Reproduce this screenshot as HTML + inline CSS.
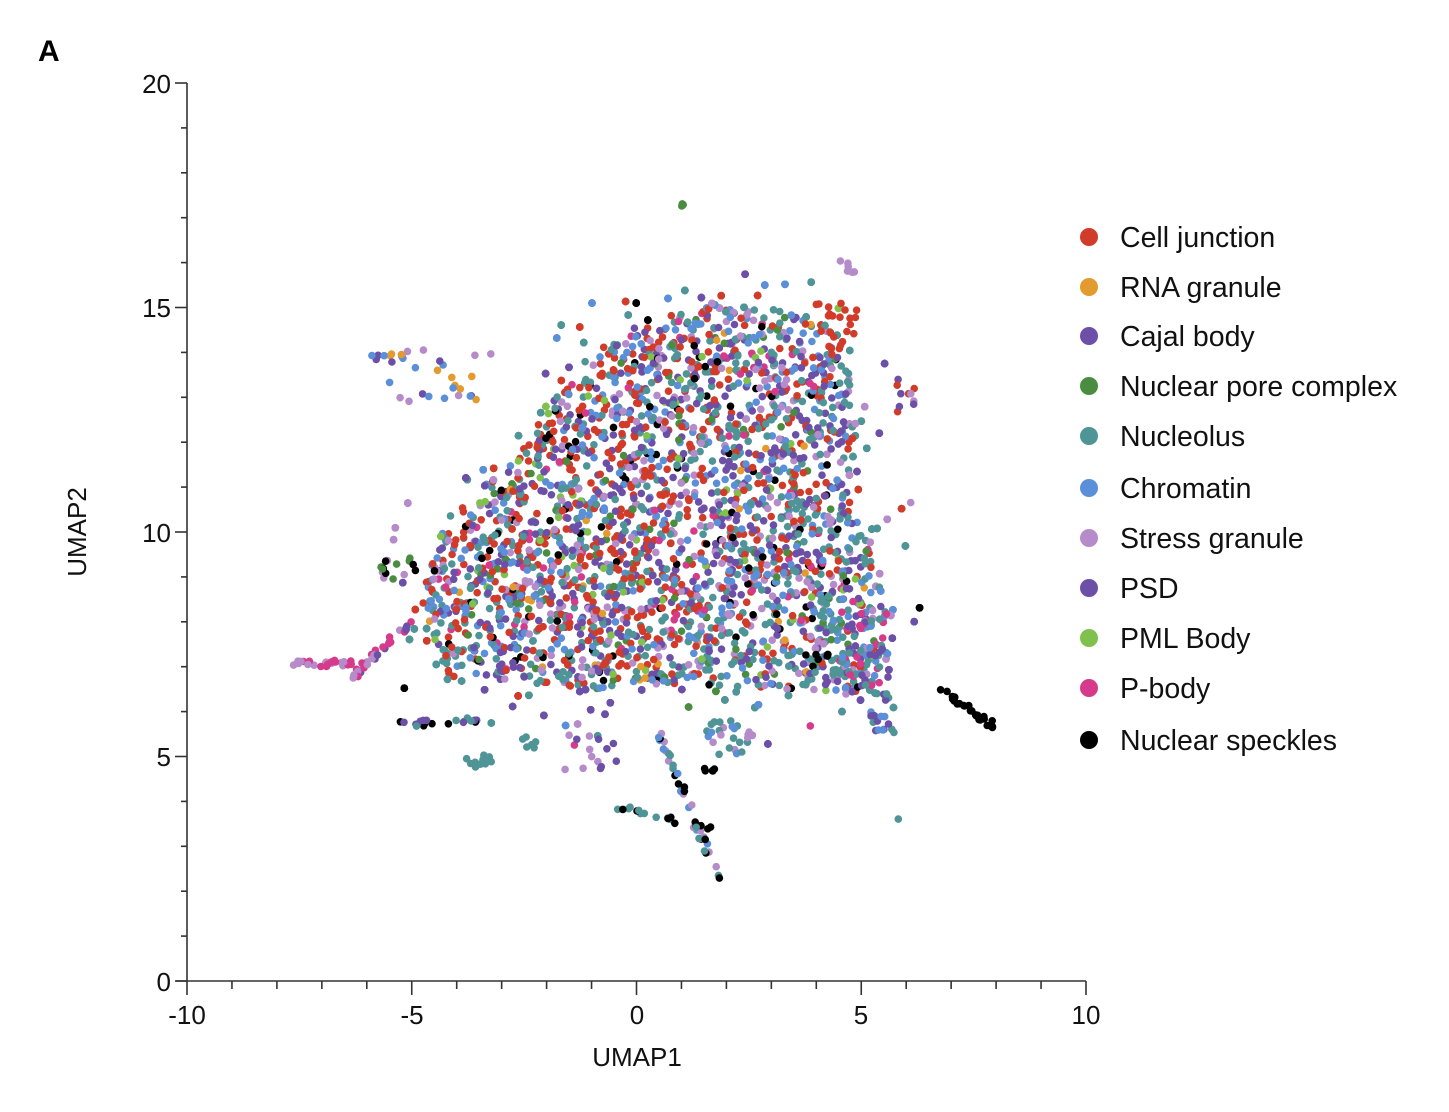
<!DOCTYPE html>
<html><head><meta charset="utf-8">
<style>
html,body{margin:0;padding:0;background:#fff;}
svg{display:block;font-family:"Liberation Sans",sans-serif;}
</style></head>
<body>
<svg id="s" width="1449" height="1112" viewBox="0 0 1449 1112" xmlns="http://www.w3.org/2000/svg">
<text x="38" y="61" font-size="30" font-weight="bold">A</text>
<g id="pts"></g>
<g stroke="#333" stroke-width="1.6" fill="none" id="ax">
<line x1="187" y1="83" x2="187" y2="981"/>
<line x1="176" y1="981" x2="1086" y2="981"/>
</g>
<g font-size="26" fill="#111">
<text x="171" y="991" text-anchor="end">0</text>
<text x="171" y="766" text-anchor="end">5</text>
<text x="171" y="542" text-anchor="end">10</text>
<text x="171" y="317" text-anchor="end">15</text>
<text x="171" y="93" text-anchor="end">20</text>
<text x="187" y="1024" text-anchor="middle">-10</text>
<text x="412" y="1024" text-anchor="middle">-5</text>
<text x="637" y="1024" text-anchor="middle">0</text>
<text x="861" y="1024" text-anchor="middle">5</text>
<text x="1086" y="1024" text-anchor="middle">10</text>
<text x="637" y="1066" text-anchor="middle">UMAP1</text>
<text transform="translate(86,532) rotate(-90)" text-anchor="middle">UMAP2</text>
</g>
<g id="leg" font-size="28.5" fill="#111"></g>
</svg>
<script>
var NS="http://www.w3.org/2000/svg";
var ax=document.getElementById('ax');
function L(x1,y1,x2,y2){var l=document.createElementNS(NS,'line');l.setAttribute('x1',x1);l.setAttribute('y1',y1);l.setAttribute('x2',x2);l.setAttribute('y2',y2);ax.appendChild(l);}
for(var i=0;i<=20;i++){var y=981-i*44.9;L(i%5?181:175,y,187,y);var x=187+i*44.95;L(x,981,x,i%5?989:995);}
var C={red:'#d13b2a',ora:'#e39a2e',pur:'#6c50a8',grn:'#4a8c40',teal:'#4f9496',blue:'#5b8fd8',lp:'#b68bc9',lg:'#80c04c',pink:'#d63a8b',blk:'#000'};
var leg=[['Cell junction',C.red,237],['RNA granule',C.ora,287],['Cajal body',C.pur,336],['Nuclear pore complex',C.grn,386],['Nucleolus',C.teal,436],['Chromatin',C.blue,488],['Stress granule',C.lp,538],['PSD',C.pur,588],['PML Body',C.lg,638],['P-body',C.pink,688],['Nuclear speckles',C.blk,740]];
var lg=document.getElementById('leg');
leg.forEach(function(e){lg.insertAdjacentHTML('beforeend','<circle cx="1089" cy="'+e[2]+'" r="9" fill="'+e[1]+'"/><text x="1120" y="'+(e[2]+10)+'">'+e[0]+'</text>');});
var seed=12345;function R(){seed=(seed*1103515245+12345)%2147483648;return seed/2147483648;}
function G(){return (R()+R()+R()-1.5)/0.5;}
function px(x){return 637+x*44.95;}function py(y){return 981-y*44.9;}
var out=[];
function dot(x,y,c){out.push('<circle cx="'+px(x).toFixed(1)+'" cy="'+py(y).toFixed(1)+'" r="3.8" fill="'+c+'"/>');}
var poly=[[-4.8,8.5],[-4.3,10.3],[-3,11.2],[-1.8,13],[-1,14],[0,14.6],[1,14.9],[3,15],[4,14.6],[4.8,13.5],[4.7,11],[5.2,9.5],[5.3,7],[4.8,6.3],[3,6.5],[1,6.6],[-1,6.5],[-3,6.7],[-4.3,6.8]];
function inside(x,y){var c=false;for(var i=0,j=poly.length-1;i<poly.length;j=i++){var a=poly[i],b=poly[j];if((a[1]>y)!=(b[1]>y)&&x<(b[0]-a[0])*(y-a[1])/(b[1]-a[1])+a[0])c=!c;}return c;}
var w=[['red',20],['pur',21],['teal',17],['blue',15],['lp',12],['blk',4],['grn',4],['pink',3],['ora',1],['lg',3]];
function pick(x,y){var ww=w.map(function(e){var v=e[1];if(e[0]=='red'&&x<1&&y>7)v*=1.6;if(e[0]=='teal'&&(x>3||y<8))v*=1.8;if(e[0]=='red'&&x>4)v*=0.5;return[e[0],v];});var t=0;ww.forEach(function(e){t+=e[1]});var r=R()*t;for(var i=0;i<ww.length;i++){r-=ww[i][1];if(r<=0)return C[ww[i][0]];}return C.pur;}
var n=0;while(n<2700){var x=-5+R()*10.7,y=6+R()*9.6;if(inside(x,y)){dot(x,y,pick(x,y));n++;}}
// soft fringe
n=0;while(n<700){var x=-5+R()*10.7,y=6+R()*9.6;if(inside(x,y)){var x2=x+G()*0.6,y2=y+G()*0.6;if(!inside(x2,y2)){dot(x2,y2,pick(x2,y2));n++;}}}
function cl(cx,cy,sx,sy,k,cols){for(var i=0;i<k;i++){dot(cx+(R()-0.5)*sx,cy+(R()-0.5)*sy,C[cols[Math.floor(R()*cols.length)]]);}}
function line(x1,y1,x2,y2,k,cols){for(var i=0;i<k;i++){var t=R();dot(x1+(x2-x1)*t+(R()-0.5)*0.15,y1+(y2-y1)*t+(R()-0.5)*0.15,C[cols[Math.floor(R()*cols.length)]]);}}
line(6.6,6.6,7.9,5.7,30,['blk']);
line(0.5,5.5,1.9,2.1,40,['teal','blk','lp','blue']);
line(-0.4,3.9,1.6,3.4,20,['blk','teal']);
line(-7.8,7.05,-6.3,7.1,25,['lp','pink']);
line(-6.3,6.8,-5,8,30,['lp','pink','pur']);
line(-5.3,5.7,-3.6,5.8,20,['blk','pur','teal']);
cl(-3.5,4.9,0.6,0.3,12,['teal']);
cl(-2.4,5.3,0.3,0.3,6,['teal']);
cl(-4.3,13.5,2.5,1.2,25,['ora','lp','pur','blue']);
cl(-5.5,13.9,0.8,0.2,8,['blue','ora','pur']);
cl(4.7,15.9,0.4,0.3,6,['lp']);
cl(1,17.3,0.1,0.2,3,['grn']);
cl(6,13,0.5,0.8,10,['pur','lp','red']);
cl(4.3,14.5,1.2,1.2,25,['red']);
cl(5,7.5,1.2,2,60,['teal','pink','pur','blue']);
cl(5.5,6,0.6,1,20,['blue','teal','pur']);
cl(2,5.4,1,0.8,25,['teal','lp','blue']);
cl(-1,5,1.2,1,15,['lp','pur','pink']);
cl(-5.3,9.2,0.8,0.5,15,['grn','blk','lp']);
cl(5.8,3.6,0.1,0.1,1,['teal']);
cl(6.1,10.7,0.1,0.1,1,['lp']);
cl(1.7,4.7,0.5,0.1,5,['blk']);
cl(4,7.2,0.6,0.2,5,['blk']);
document.getElementById('pts').innerHTML=out.join('');
</script>
</body></html>
